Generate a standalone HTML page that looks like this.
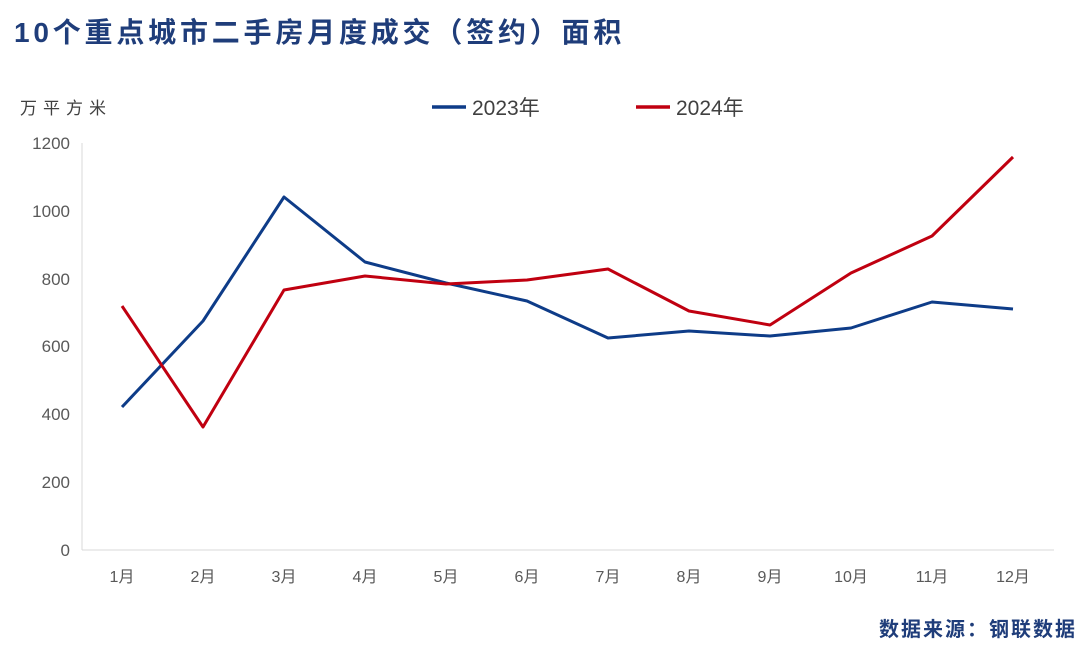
<!DOCTYPE html>
<html><head><meta charset="utf-8"><style>
body{margin:0;background:#fff;}
svg text{font-family:"Liberation Sans","Noto Sans CJK SC",sans-serif;}
</style></head><body>
<svg width="1084" height="646" viewBox="0 0 1084 646" xmlns="http://www.w3.org/2000/svg">
<rect width="1084" height="646" fill="#fff"/>
<text x="14" y="42" font-size="28" font-weight="bold" fill="#1f3d7a" letter-spacing="3.8">10个重点城市二手房月度成交（签约）面积</text>
<text x="20" y="114" font-size="17" fill="#404040" letter-spacing="6">万平方米</text>
<line x1="432" y1="107" x2="466" y2="107" stroke="#0e3c88" stroke-width="3.5"/>
<text x="472" y="115" font-size="21" fill="#404040">2023年</text>
<line x1="636" y1="107" x2="670" y2="107" stroke="#c00010" stroke-width="3.5"/>
<text x="676" y="115" font-size="21" fill="#404040">2024年</text>
<line x1="82" y1="143" x2="82" y2="550" stroke="#d9d9d9"/>
<line x1="82" y1="550" x2="1054" y2="550" stroke="#d9d9d9"/>
<g font-size="17" fill="#595959" text-anchor="end">
<text x="70" y="556">0</text><text x="70" y="488">200</text><text x="70" y="420">400</text>
<text x="70" y="352">600</text><text x="70" y="285">800</text><text x="70" y="217">1000</text><text x="70" y="149">1200</text>
</g>
<g font-size="16" fill="#595959" text-anchor="middle">
<text x="122" y="582">1月</text><text x="203" y="582">2月</text><text x="284" y="582">3月</text><text x="365" y="582">4月</text>
<text x="446" y="582">5月</text><text x="527" y="582">6月</text><text x="608" y="582">7月</text><text x="689" y="582">8月</text>
<text x="770" y="582">9月</text><text x="851" y="582">10月</text><text x="932" y="582">11月</text><text x="1013" y="582">12月</text>
</g>
<polyline fill="none" stroke="#0e3c88" stroke-width="3" stroke-linejoin="round" points="122,407 203,321 284,197 365,262 446,283 527,301 608,338 689,331 770,336 851,328 932,302 1013,309"/>
<polyline fill="none" stroke="#c00010" stroke-width="3" stroke-linejoin="round" points="122,306 203,427 284,290 365,276 446,284 527,280 608,269 689,311 770,325 851,273 932,236 1013,157"/>
<text x="1077" y="636" font-size="20" font-weight="bold" fill="#1f3d7a" text-anchor="end" letter-spacing="2" font-family="'Liberation Serif','Noto Serif CJK SC',serif">数据来源：钢联数据</text>
</svg>
</body></html>
